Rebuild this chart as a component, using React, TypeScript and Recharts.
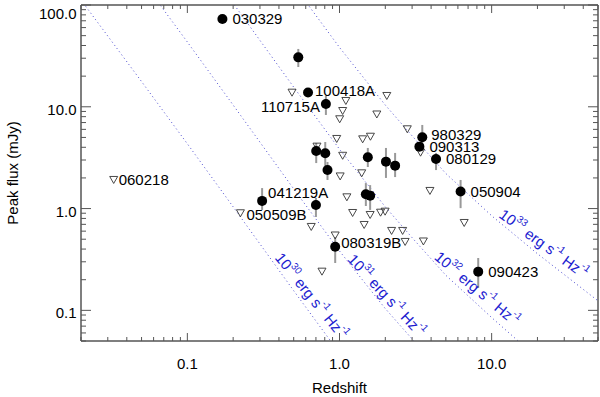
import React from "react";
import { ComposedChart, XAxis, YAxis, Scatter, Line, ErrorBar } from "recharts";

// axis ticks
const zMajor = [0.1, 1, 10];
const zMinor = [0.02, 0.03, 0.04, 0.05, 0.06, 0.07, 0.08, 0.09, 0.2, 0.3, 0.4, 0.5, 0.6, 0.7, 0.8, 0.9, 2, 3, 4, 5, 6, 7, 8, 9, 20, 30, 40, 50];
const fMajor = [0.1, 1, 10, 100];
const fMinor = [0.05, 0.06, 0.07, 0.08, 0.09, 0.2, 0.3, 0.4, 0.5, 0.6, 0.7, 0.8, 0.9, 2, 3, 4, 5, 6, 7, 8, 9, 20, 30, 40, 50, 60, 70, 80, 90];

// detections (filled circles) with flux range of the error bar
const detName = ["030329", "", "100418A", "110715A", "", "", "", "041219A", "", "080319B", "", "", "", "", "", "980329", "090313", "080129", "050904", "090423"];
const detZ = [0.17, 0.536, 0.621, 0.814, 0.703, 0.806, 0.834, 0.31, 0.7, 0.937, 1.49, 1.59, 1.535, 2.02, 2.32, 3.5, 3.35, 4.31, 6.25, 8.16];
const detF = [72.9, 30.6, 13.8, 10.65, 3.68, 3.49, 2.39, 1.19, 1.085, 0.422, 1.38, 1.34, 3.19, 2.89, 2.64, 5.01, 4.06, 3.07, 1.47, 0.24];
const detLo = [72.9, 24.6, 13.8, 8.31, 2.8, 2.62, 1.91, 0.97, 0.827, 0.292, 1.06, 0.97, 2.56, 2.0, 2.04, 4.03, 4.06, 2.39, 1.01, 0.166];
const detHi = [72.9, 37.0, 13.8, 12.8, 4.41, 4.51, 2.87, 1.59, 1.27, 0.526, 1.78, 1.7, 3.94, 3.94, 3.52, 6.63, 4.06, 3.52, 1.91, 0.327];

// upper limits (open triangles)
const limName = ["060218", "050509B"];
const limZ = [0.0328, 0.2233, 0.4875, 2.046, 1.101, 1.049, 1.003, 1.759, 2.79, 0.959, 1.42, 1.597, 0.711, 1.049, 3.41, 1.4, 1.01, 3.93, 1.118, 6.6, 1.22, 1.59, 1.862, 1.994, 1.452, 2.2, 2.6, 0.937, 2.7, 3.56, 0.652, 0.767];
const limF = [1.91, 0.899, 13.76, 12.77, 11.4, 9.09, 7.54, 8.4, 6.01, 4.83, 4.79, 5.08, 4.06, 3.3, 3.54, 2.22, 2.07, 1.49, 1.29, 0.722, 0.905, 0.865, 0.911, 0.932, 0.69, 0.603, 0.603, 0.544, 0.47, 0.475, 0.66, 0.24];

// constant luminosity curves (erg s^-1 Hz^-1)
const lumExp = ["30", "31", "32", "33"];
const lumZ = [
  [0.02, 0.05, 0.1, 0.2, 0.5, 1],
  [0.05, 0.1, 0.2, 0.5, 1, 2, 5],
  [0.1, 0.2, 0.5, 1, 2, 3, 5, 10, 20],
  [0.3, 0.5, 1, 2, 3, 5, 10, 20, 50],
];
const lumF = [
  [112, 17.7, 4.33, 1.04, 0.156, 0.038],
  [177, 43.3, 10.4, 1.56, 0.383, 0.104, 0.022],
  [433, 104, 15.6, 3.83, 1.04, 0.518, 0.221, 0.085, 0.034],
  [450, 156, 38.3, 10.4, 5.18, 2.21, 0.85, 0.36, 0.124],
];
const lumLabelZ = [0.657, 2.046, 8.06, 22.06];
const lumLabelF = [0.14, 0.1416, 0.165, 0.456];
const lumLabelAngle = [51, 47, 40, 36];

const labelPlace: Record<string, [number, number, "start" | "end"]> = {
  "030329": [10, 0, "start"],
  "100418A": [7, -2, "start"],
  "110715A": [-6, 3, "end"],
  "041219A": [6, -8.5, "start"],
  "080319B": [6, -4, "start"],
  "980329": [9, -3, "start"],
  "090313": [10, 0, "start"],
  "080129": [10, 0, "start"],
  "050904": [10, 0, "start"],
  "090423": [10, 0, "start"],
  "060218": [5, 0, "start"],
  "050509B": [6, 1.5, "start"],
};

const detections = detZ.map((z, i) => ({
  z,
  f: detF[i],
  name: detName[i],
  err: [detF[i] - detLo[i], detHi[i] - detF[i]],
}));
const limits = limZ.map((z, i) => ({ z, f: limF[i], name: limName[i] || "" }));
const curves = lumZ.map((zs, i) => zs.map((z, j) => ({ z, f: lumF[i][j] })));
const lumLabels = lumExp.map((e, i) => ({ z: lumLabelZ[i], f: lumLabelF[i], e, angle: lumLabelAngle[i] }));

const AXIS = "#555";
const BLUE = "#1c1cd0";
const fmt = (v: number) => v.toFixed(1);

const NameText = ({ x, y, name }: { x: number; y: number; name: string }) => {
  const p = labelPlace[name];
  if (!p) return null;
  return (
    <text x={x + p[0]} y={y + p[1] + 5.4} textAnchor={p[2]} fontSize={15} fill="#000">
      {name}
    </text>
  );
};

const DotShape = (props: any) => {
  const { cx, cy, payload } = props;
  return (
    <g>
      <circle cx={cx} cy={cy} r={5} fill="#000" />
      {payload.name && <NameText x={cx} y={cy} name={payload.name} />}
    </g>
  );
};

const TriShape = (props: any) => {
  const { cx, cy, payload } = props;
  return (
    <g>
      <polygon
        points={`${cx - 4},${cy - 3.5} ${cx + 4},${cy - 3.5} ${cx},${cy + 3.5}`}
        fill="none"
        stroke="#333"
        strokeWidth={0.9}
      />
      {payload.name && <NameText x={cx} y={cy} name={payload.name} />}
    </g>
  );
};

const LumLabel = (props: any) => {
  const { cx, cy, payload } = props;
  return (
    <text
      transform={`translate(${cx},${cy}) rotate(${payload.angle})`}
      textAnchor="middle"
      dominantBaseline="central"
      fontSize={15}
      fill={BLUE}
    >
      10<tspan dy={-6} fontSize={10}>{payload.e}</tspan>
      <tspan dy={6}> erg s</tspan>
      <tspan dy={-6} fontSize={10}>-1</tspan>
      <tspan dy={6}> Hz</tspan>
      <tspan dy={-6} fontSize={10}>-1</tspan>
    </text>
  );
};

const BottomTick = (props: any) => {
  const { x, y, payload } = props;
  const major = zMajor.includes(payload.value);
  return (
    <g>
      <line x1={x} x2={x} y1={y} y2={y - (major ? 8 : 4)} stroke={AXIS} />
      {major && (
        <text x={x} y={y + 28} textAnchor="middle" fontSize={15} fill="#000">
          {fmt(payload.value)}
        </text>
      )}
    </g>
  );
};

const TopTick = (props: any) => {
  const { x, y, payload } = props;
  const major = zMajor.includes(payload.value);
  return <line x1={x} x2={x} y1={y} y2={y + (major ? 8 : 4)} stroke={AXIS} />;
};

const LeftTick = (props: any) => {
  const { x, y, payload } = props;
  const major = fMajor.includes(payload.value);
  // the top label sits a little below its tick, as in the original
  const dy = payload.value === 100 ? 14 : 8;
  return (
    <g>
      <line x1={x} x2={x + (major ? 10 : 5)} y1={y} y2={y} stroke={AXIS} />
      {major && (
        <text x={x - 4.5} y={y + dy} textAnchor="end" fontSize={15} fill="#000">
          {fmt(payload.value)}
        </text>
      )}
    </g>
  );
};

const RightTick = (props: any) => {
  const { x, y, payload } = props;
  const major = fMajor.includes(payload.value);
  return <line x1={x} x2={x - (major ? 10 : 5)} y1={y} y2={y} stroke={AXIS} />;
};

const zAll = [...zMinor, ...zMajor].sort((a, b) => a - b);
const fAll = [...fMinor, ...fMajor].sort((a, b) => a - b);

export default function App() {
  return (
    <div style={{ position: "absolute", left: 0, top: 0, background: "#fff", fontFamily: "'Liberation Sans', Arial, sans-serif" }}>
      <ComposedChart width={600} height={397} margin={{ top: 0, right: 0, bottom: 0, left: 0 }}>
        <XAxis
          xAxisId="zb"
          orientation="bottom"
          dataKey="z"
          type="number"
          scale="log"
          domain={[0.02, 50]}
          allowDataOverflow
          ticks={zAll}
          interval={0}
          tickSize={0}
          tickMargin={0}
          tick={BottomTick}
          tickLine={false}
          axisLine={{ stroke: AXIS, strokeWidth: 1.5 }}
          height={56}
          label={{ value: "Redshift", position: "insideBottom", offset: 4, fontSize: 15, fill: "#000" }}
        />
        <XAxis
          xAxisId="zt"
          orientation="top"
          dataKey="z"
          type="number"
          scale="log"
          domain={[0.02, 50]}
          allowDataOverflow
          ticks={zAll}
          interval={0}
          tickSize={0}
          tickMargin={0}
          tick={TopTick}
          tickLine={false}
          axisLine={{ stroke: AXIS, strokeWidth: 1.5 }}
          height={5}
        />
        <YAxis
          yAxisId="fl"
          orientation="left"
          dataKey="f"
          type="number"
          scale="log"
          domain={[0.05, 100]}
          allowDataOverflow
          ticks={fAll}
          interval={0}
          tickSize={0}
          tickMargin={0}
          tick={LeftTick}
          tickLine={false}
          axisLine={{ stroke: AXIS, strokeWidth: 1.5 }}
          width={81}
          label={{ value: "Peak flux (mJy)", angle: -90, position: "insideLeft", offset: 13, fontSize: 15, fill: "#000", style: { textAnchor: "middle" } }}
        />
        <YAxis
          yAxisId="fr"
          orientation="right"
          dataKey="f"
          type="number"
          scale="log"
          domain={[0.05, 100]}
          allowDataOverflow
          ticks={fAll}
          interval={0}
          tickSize={0}
          tickMargin={0}
          tick={RightTick}
          tickLine={false}
          axisLine={{ stroke: AXIS, strokeWidth: 1.5 }}
          width={2}
        />
        {curves.map((c, i) => (
          <Line
            key={`lum${i}`}
            xAxisId="zb"
            yAxisId="fl"
            data={c}
            dataKey="f"
            type="linear"
            stroke="#4a4ad0"
            strokeWidth={1}
            strokeDasharray="1 3"
            dot={false}
            activeDot={false}
            isAnimationActive={false}
          />
        ))}
        <Scatter xAxisId="zb" yAxisId="fl" data={lumLabels} dataKey="f" shape={LumLabel} isAnimationActive={false} />
        <Scatter xAxisId="zb" yAxisId="fl" data={limits} dataKey="f" shape={TriShape} isAnimationActive={false} />
        <Scatter xAxisId="zb" yAxisId="fl" data={detections} dataKey="f" shape={DotShape} isAnimationActive={false}>
          <ErrorBar dataKey="err" direction="y" width={0} stroke="#999" strokeWidth={2} />
        </Scatter>
      </ComposedChart>
    </div>
  );
}
